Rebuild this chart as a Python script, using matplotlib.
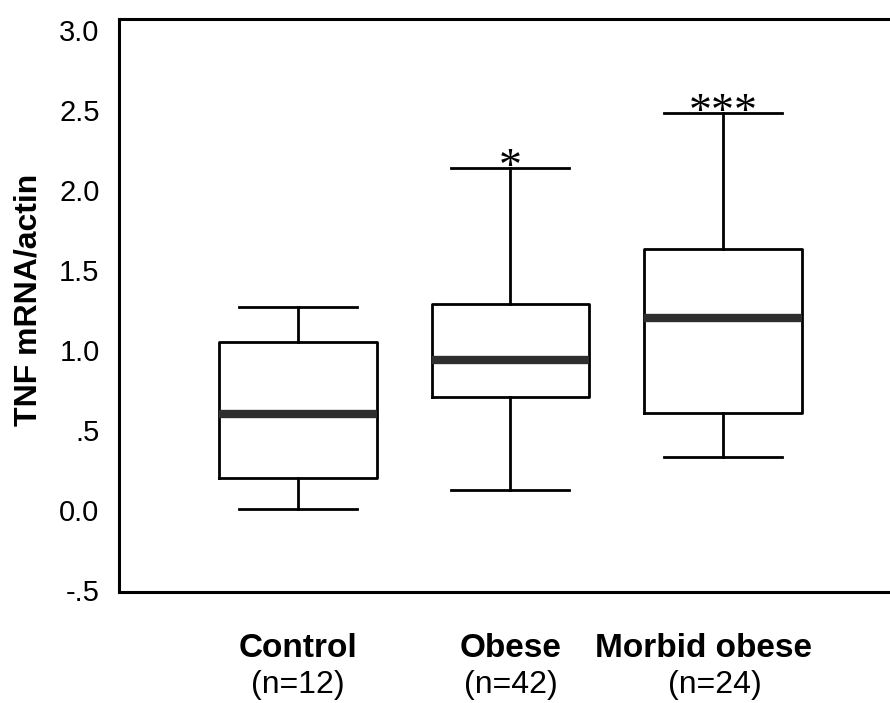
import matplotlib
matplotlib.use("Agg")
import matplotlib.pyplot as plt

# box statistics
groups = ["Control", "Obese", "Morbid obese"]
n_labels = ["(n=12)", "(n=42)", "(n=24)"]
whisk_low = [0.01, 0.13, 0.33]
q1 = [0.20, 0.71, 0.61]
median = [0.60, 0.94, 1.20]
q3 = [1.05, 1.29, 1.63]
whisk_high = [1.27, 2.14, 2.48]
stars = ["", "*", "***"]
yticks = [-0.5, 0.0, 0.5, 1.0, 1.5, 2.0, 2.5, 3.0]
ytick_labels = ["-.5", "0.0", ".5", "1.0", "1.5", "2.0", "2.5", "3.0"]

plt.rcParams["font.family"] = ["Liberation Sans", "DejaVu Sans"]

fig = plt.figure(figsize=(8.9, 7.03), dpi=100)
ax = fig.add_axes([0.1337, 0.158, 0.8663, 0.815])

stats = []
for i in range(len(groups)):
    stats.append({"label": groups[i], "whislo": whisk_low[i], "q1": q1[i], "med": median[i],
                  "q3": q3[i], "whishi": whisk_high[i], "fliers": []})

pos = [1, 2, 3]
ax.bxp(stats, positions=pos, widths=0.74, capwidths=0.555, showfliers=False,
       boxprops=dict(color="black", linewidth=2),
       whiskerprops=dict(color="black", linewidth=2),
       capprops=dict(color="black", linewidth=2),
       medianprops=dict(color="#2e2e2e", linewidth=6, solid_capstyle="butt"))

ax.set_xlim(0.158, 3.786)
ax.set_ylim(-0.51, 3.07)
ax.set_yticks(yticks)
ax.set_yticklabels(ytick_labels, fontsize=21)
ax.tick_params(axis="y", length=0, pad=14)
ax.set_xticks([])
ax.spines["right"].set_visible(False)
for s in ["left", "top", "bottom"]:
    ax.spines[s].set_linewidth(2.2)

ax.set_ylabel("TNF mRNA/actin", fontsize=23, fontweight="bold")
ax.yaxis.set_label_coords(-0.098, 0.51)

# significance stars over the top whiskers
for i in range(len(groups)):
    if stars[i]:
        ax.annotate(stars[i], (pos[i], whisk_high[i]), xytext=(0, -8.5), textcoords="offset points",
                    ha="center", va="baseline", fontsize=33, family="Liberation Serif")

# group names and sizes under the axis
trans = ax.get_xaxis_transform()
shift = [0, 0, -0.09]
for i in range(len(groups)):
    ax.text(pos[i] + shift[i], -0.098, groups[i], transform=trans, ha="center", va="center",
            fontsize=24, fontweight="bold")
    ax.text(pos[i] + shift[i] * 0.4, -0.163, n_labels[i], transform=trans, ha="center", va="center",
            fontsize=23)

fig.savefig("out.png", dpi=100)
